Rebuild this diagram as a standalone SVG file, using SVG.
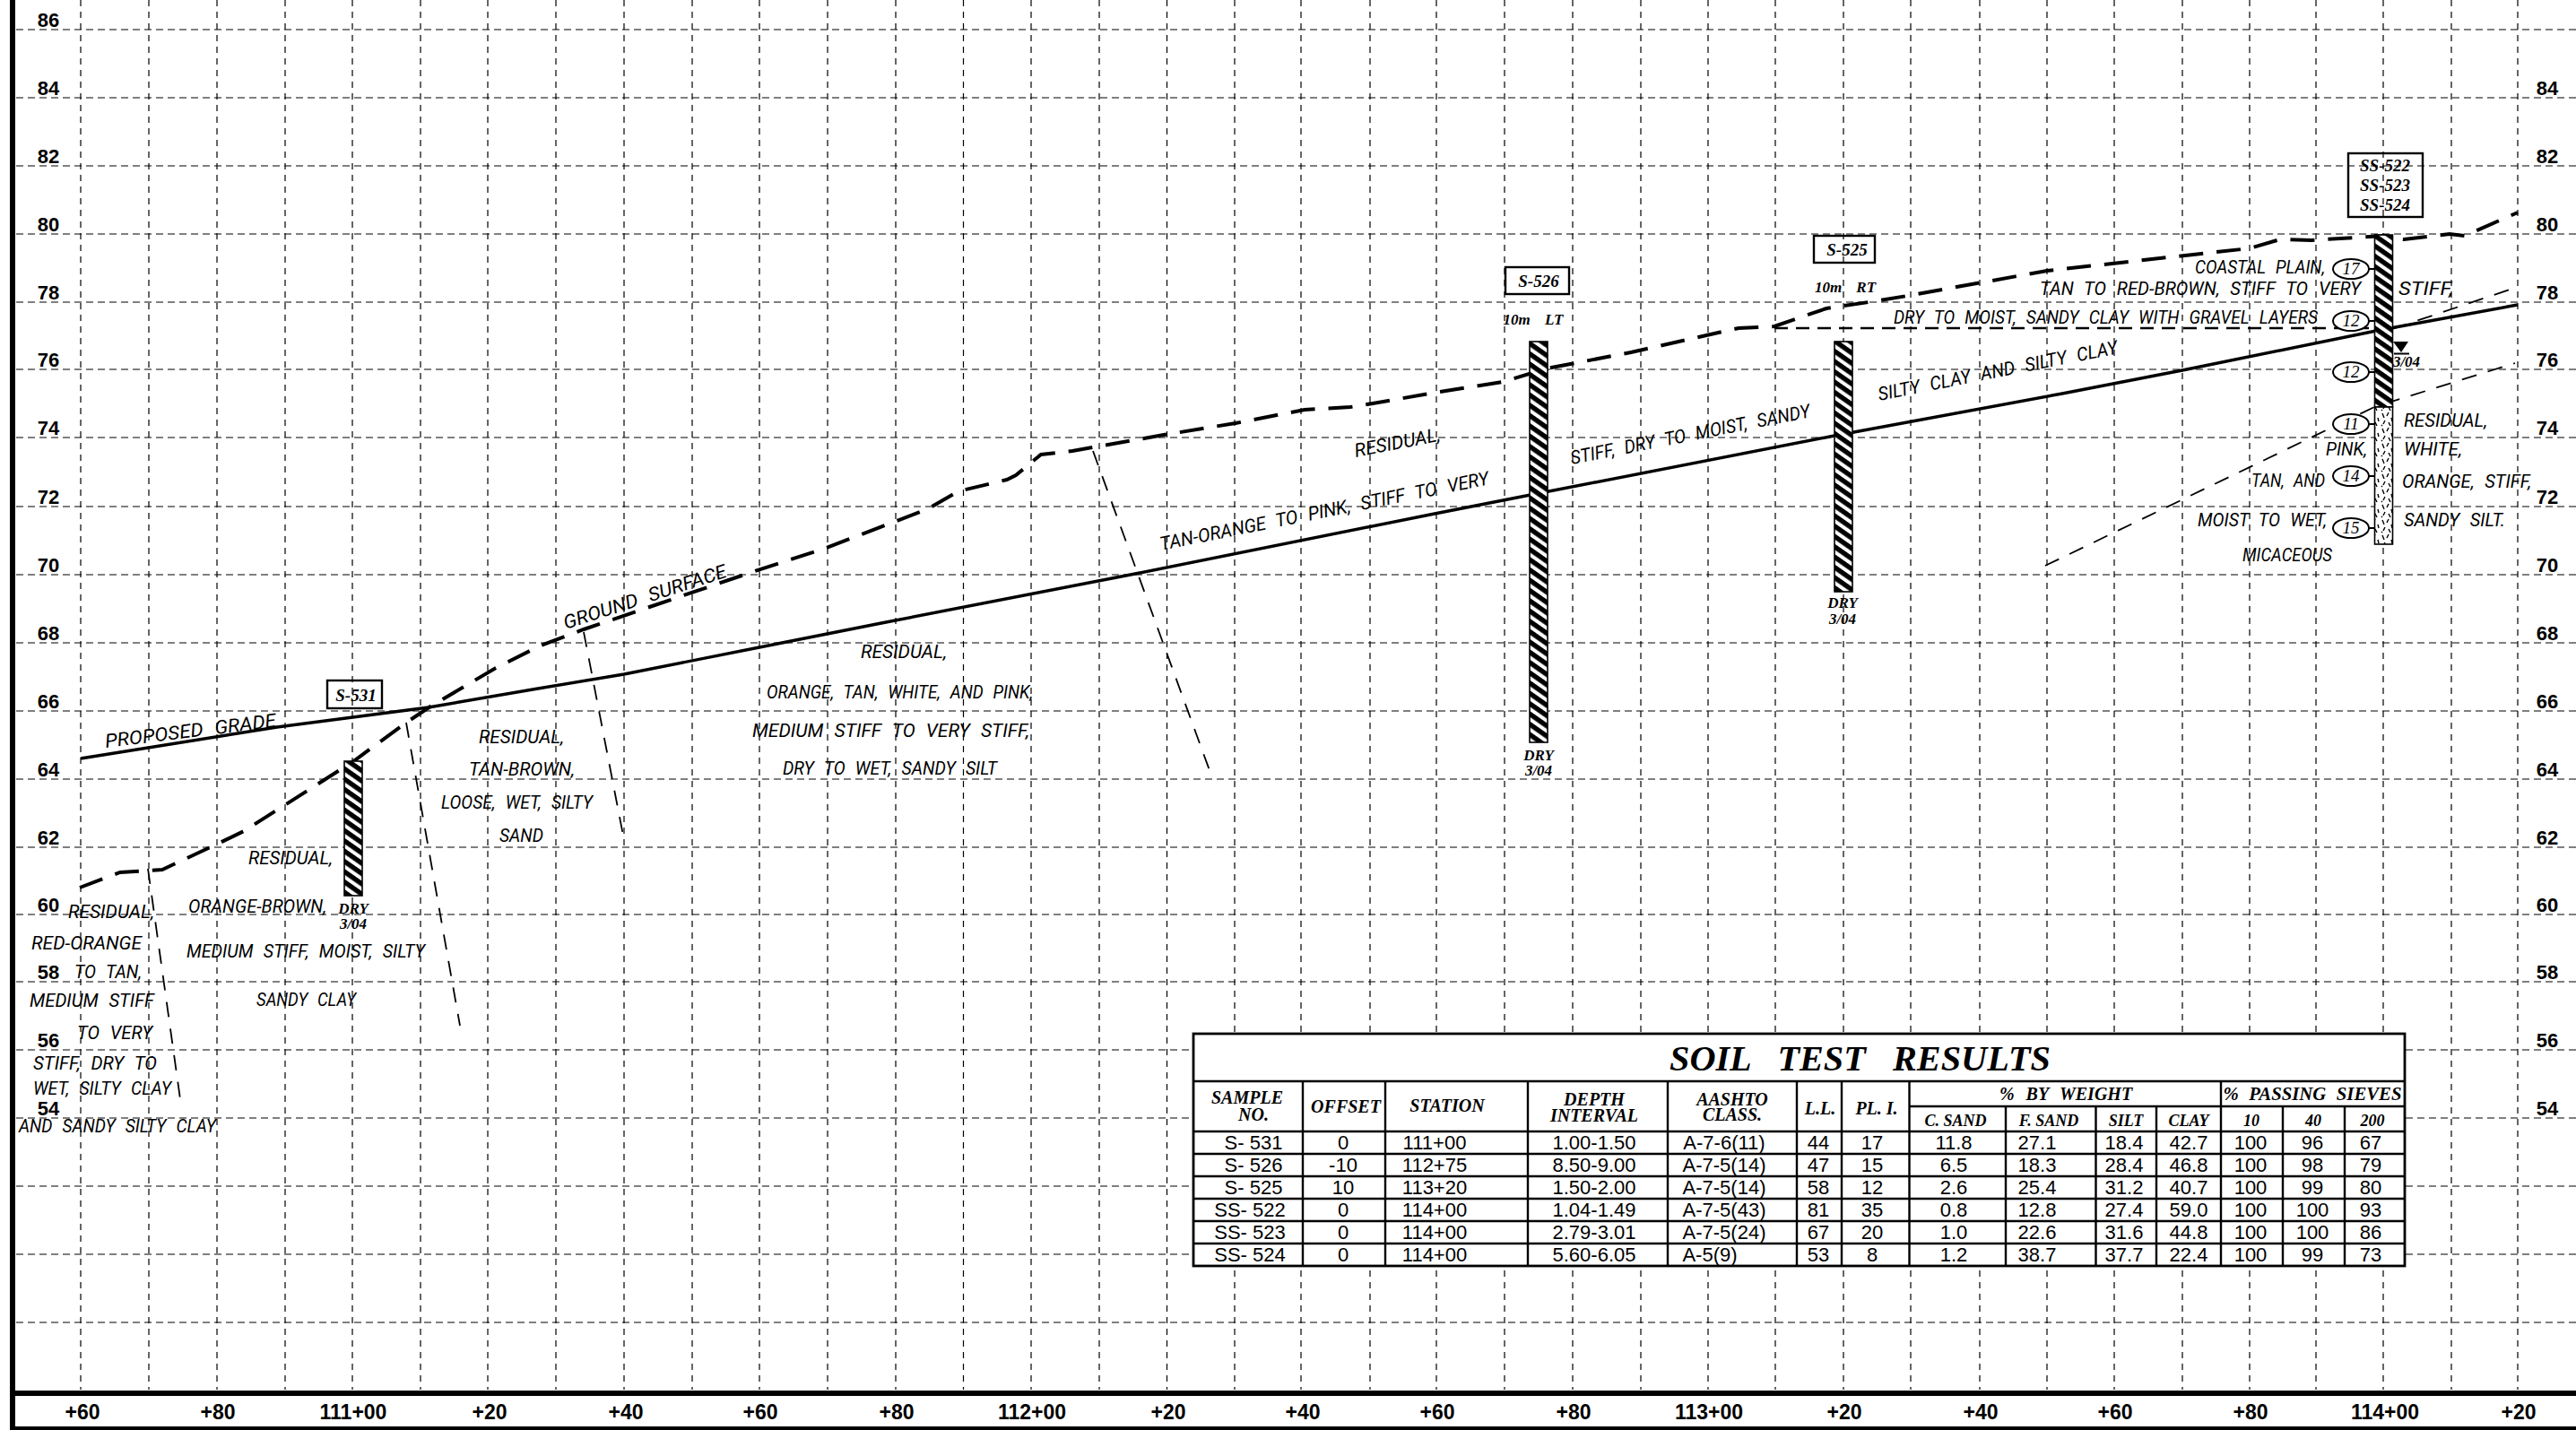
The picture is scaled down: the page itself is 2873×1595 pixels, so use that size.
<svg xmlns="http://www.w3.org/2000/svg" width="2873" height="1595" viewBox="0 0 2873 1595">
<style>
text{fill:#000}
.grid{fill:none;stroke:#000;stroke-width:1.2;stroke-dasharray:8 5}
.gridv{fill:none;stroke:#000;stroke-width:1.2;stroke-dasharray:7 6}
.ground{fill:none;stroke:#000;stroke-width:4;stroke-dasharray:27 15}
.grade{fill:none;stroke:#000;stroke-width:3.4}
.thin{fill:none;stroke:#000;stroke-width:1.8;stroke-dasharray:17 13}
.mid{fill:none;stroke:#000;stroke-width:2.6;stroke-dasharray:15 9}
.el{font:bold 22px "Liberation Sans",sans-serif;text-anchor:middle}
.st{font:bold 23px "Liberation Sans",sans-serif;text-anchor:middle}
.l{font:italic 400 21px Roboto,"Liberation Sans",sans-serif;word-spacing:7px}
.tag{font:italic bold 17px "Liberation Serif",serif;text-anchor:middle}
.bx{font:italic bold 19px "Liberation Serif",serif;text-anchor:middle}
.off{word-spacing:12px}
.n{font:italic 19px "Liberation Serif",serif;text-anchor:middle}
.box{fill:none;stroke:#000;stroke-width:2.4}
.hole{stroke:#000;stroke-width:1.6}
.oval{fill:#fff;stroke:#000;stroke-width:2}
.tick{stroke:#000;stroke-width:2}
.tl{fill:none;stroke:#000;stroke-width:2.4}
.th{font:italic bold 20px "Liberation Serif",serif;text-anchor:middle}
.th2{font:italic bold 18px "Liberation Serif",serif;text-anchor:middle}
.td{font:22px "Liberation Sans",sans-serif;text-anchor:middle}
</style>
<defs>
<pattern id="hatch" patternUnits="userSpaceOnUse" width="20" height="9.4" patternTransform="rotate(35)"><rect width="20" height="9.4" fill="#fff"/><rect width="20" height="5.4" fill="#000"/></pattern>
<pattern id="speck" patternUnits="userSpaceOnUse" width="15" height="17"><rect width="15" height="17" fill="#fff"/><path d="M2 2l2 5M9 1l-2 4M12 7l1 4M5 10l-2 4M9 12l2 4M1 15l1 1" stroke="#000" stroke-width="1.4" fill="none"/></pattern>
</defs>
<rect width="2873" height="1595" fill="#fff"/>

<g id="grid">
<path class="grid" d="M18 33H2873M18 109H2873M18 185H2873M18 261H2873M18 337H2873M18 412H2873M18 488H2873M18 565H2873M18 641H2873M18 717H2873M18 793H2873M18 869H2873M18 945H2873M18 1020H2873M18 1095H2873M18 1171H2873M18 1247H2873M18 1323H2873M18 1399H2873M18 1475H2873"/>
<path class="gridv" d="M90 0V1550M166 0V1550M242 0V1550M318 0V1550M393 0V1550M469 0V1550M544 0V1550M620 0V1550M696 0V1550M772 0V1550M847 0V1550M923 0V1550M999 0V1550M1074.5 0V1550M1150 0V1550M1226 0V1550M1301.5 0V1550M1377 0V1550M1451 0V1550M1528 0V1550M1602 0V1550M1678 0V1550M1754 0V1550M1830 0V1550M1905 0V1550M1980 0V1550M2056 0V1550M2131 0V1550M2208 0V1550M2283 0V1550M2358 0V1550M2434 0V1550M2509 0V1550M2583 0V1550M2658 0V1550M2734 0V1550M2808 0V1550"/>
</g>

<g id="frame" fill="#000">
<rect x="11" y="0" width="6" height="1595"/>
<rect x="11" y="1551" width="2862" height="6"/>
<rect x="11" y="1591" width="2862" height="4"/>
</g>

<g id="elevations-left">
<text class="el" x="54" y="30">86</text><text class="el" x="54" y="106">84</text><text class="el" x="54" y="182">82</text><text class="el" x="54" y="258">80</text><text class="el" x="54" y="334">78</text><text class="el" x="54" y="409">76</text><text class="el" x="54" y="485">74</text><text class="el" x="54" y="562">72</text><text class="el" x="54" y="638">70</text><text class="el" x="54" y="714">68</text><text class="el" x="54" y="790">66</text><text class="el" x="54" y="866">64</text><text class="el" x="54" y="942">62</text><text class="el" x="54" y="1017">60</text><text class="el" x="54" y="1092">58</text><text class="el" x="54" y="1168">56</text><text class="el" x="54" y="1244">54</text>
</g>
<g id="elevations-right">
<text class="el" x="2841" y="106">84</text><text class="el" x="2841" y="182">82</text><text class="el" x="2841" y="258">80</text><text class="el" x="2841" y="334">78</text><text class="el" x="2841" y="409">76</text><text class="el" x="2841" y="485">74</text><text class="el" x="2841" y="562">72</text><text class="el" x="2841" y="638">70</text><text class="el" x="2841" y="714">68</text><text class="el" x="2841" y="790">66</text><text class="el" x="2841" y="866">64</text><text class="el" x="2841" y="942">62</text><text class="el" x="2841" y="1017">60</text><text class="el" x="2841" y="1092">58</text><text class="el" x="2841" y="1168">56</text><text class="el" x="2841" y="1244">54</text>
</g>
<g id="stations">
<text class="st" x="92" y="1583">+60</text><text class="st" x="243" y="1583">+80</text><text class="st" x="394" y="1583">111+00</text><text class="st" x="546" y="1583">+20</text><text class="st" x="698" y="1583">+40</text><text class="st" x="848" y="1583">+60</text><text class="st" x="1000" y="1583">+80</text><text class="st" x="1151" y="1583">112+00</text><text class="st" x="1303" y="1583">+20</text><text class="st" x="1453" y="1583">+40</text><text class="st" x="1603" y="1583">+60</text><text class="st" x="1755" y="1583">+80</text><text class="st" x="1906" y="1583">113+00</text><text class="st" x="2057" y="1583">+20</text><text class="st" x="2209" y="1583">+40</text><text class="st" x="2359" y="1583">+60</text><text class="st" x="2510" y="1583">+80</text><text class="st" x="2660" y="1583">114+00</text><text class="st" x="2809" y="1583">+20</text>
</g>

<g id="connectors">
<path class="grade" d="M90 846L309 811L478 789L600 768L696 752L847 722L983 695L1266 640L1600 573L1707 552L2046 486L2300 439L2434 413L2655 368L2808 340"/>
<path class="ground" d="M89 990L134 973L181 970L243 941L272 927L393 850L453 806L480 788L553 745L603 720L651 702L839 638L919 612L995 583L1034 568L1069 548L1123 535L1133 530L1161 507L1196 503L1298 485L1378 472L1455 457L1506 454L1531 450L1600 438L1676 426L1725 411L1819 393L1921 370L1939 366L1979 364L2037 344L2091 336L2127 330L2283 302L2509 277L2543 267L2578 268L2659 263L2681 267L2732 261L2749 263L2808 237"/>
<path class="thin" d="M165 969L201 1226"/>
<path class="thin" d="M453 806L513 1144"/>
<path class="thin" d="M651 705L696 937"/>
<path class="thin" d="M1219 503L1350 862"/>
<path class="mid" d="M1979 366H2648"/>
<path class="thin" d="M2668 367L2808 320"/>
<path class="thin" d="M2281 631L2648 454L2805 405"/>
</g>

<g id="borehole-s531">
<rect class="box" x="365" y="759" width="61" height="31"/>
<text class="bx" x="397" y="782">S-531</text>
<rect class="hole" x="384" y="849" width="20" height="150" fill="url(#hatch)"/>
<text class="tag" x="394" y="1019">DRY</text><text class="tag" x="394" y="1036">3/04</text>
</g>
<g id="borehole-s526">
<rect class="box" x="1679" y="298" width="71" height="30"/>
<text class="bx" x="1716" y="320">S-526</text>
<text class="tag off" x="1710" y="362">10m LT</text>
<rect class="hole" x="1706" y="381" width="20" height="447" fill="url(#hatch)"/>
<text class="tag" x="1716" y="848">DRY</text><text class="tag" x="1716" y="865">3/04</text>
</g>
<g id="borehole-s525">
<rect class="box" x="2023" y="263" width="68" height="30"/>
<text class="bx" x="2060" y="285">S-525</text>
<text class="tag off" x="2058" y="326">10m RT</text>
<rect class="hole" x="2046" y="381" width="20" height="279" fill="url(#hatch)"/>
<text class="tag" x="2055" y="678">DRY</text><text class="tag" x="2055" y="696">3/04</text>
</g>
<g id="borehole-ss522">
<rect class="box" x="2619" y="171" width="83" height="71"/>
<text class="bx" x="2660" y="191">SS-522</text><text class="bx" x="2660" y="213">SS-523</text><text class="bx" x="2660" y="235">SS-524</text>
<rect class="hole" x="2648.5" y="262" width="20" height="192" fill="url(#hatch)"/>
<rect class="hole" x="2648.5" y="454" width="20" height="153" fill="url(#speck)"/>
<path d="M2669 381H2686L2678 393Z" fill="#000"/>
<path d="M2670 394.500H2687" stroke="#000" stroke-width="2"/>
<text class="tag" x="2684" y="409">3/04</text>
<path class="tick" d="M2642 300H2649M2642 358H2649M2642 415H2649M2642 473H2649M2642 531H2649M2642 589H2649"/>
<ellipse class="oval" cx="2622" cy="300" rx="20" ry="11"/><text class="n" x="2622" y="306">17</text>
<ellipse class="oval" cx="2622" cy="358" rx="20" ry="11"/><text class="n" x="2622" y="364">12</text>
<ellipse class="oval" cx="2622" cy="415" rx="20" ry="11"/><text class="n" x="2622" y="421">12</text>
<ellipse class="oval" cx="2622" cy="473" rx="20" ry="11"/><text class="n" x="2622" y="479">11</text>
<ellipse class="oval" cx="2622" cy="531" rx="20" ry="11"/><text class="n" x="2622" y="537">14</text>
<ellipse class="oval" cx="2622" cy="589" rx="20" ry="11"/><text class="n" x="2622" y="595">15</text>
</g>

<g id="soil-labels">
<text class="l" x="76" y="1024" textLength="96" lengthAdjust="spacingAndGlyphs">RESIDUAL,</text>
<text class="l" x="35" y="1059" textLength="123" lengthAdjust="spacingAndGlyphs">RED-ORANGE</text>
<text class="l" x="83" y="1091" textLength="75" lengthAdjust="spacingAndGlyphs">TO TAN,</text>
<text class="l" x="33" y="1123" textLength="139" lengthAdjust="spacingAndGlyphs">MEDIUM STIFF</text>
<text class="l" x="86" y="1159" textLength="84" lengthAdjust="spacingAndGlyphs">TO VERY</text>
<text class="l" x="37" y="1193" textLength="138" lengthAdjust="spacingAndGlyphs">STIFF, DRY TO</text>
<text class="l" x="37" y="1221" textLength="154" lengthAdjust="spacingAndGlyphs">WET, SILTY CLAY</text>
<text class="l" x="21" y="1263" textLength="220" lengthAdjust="spacingAndGlyphs">AND SANDY SILTY CLAY</text>
<text class="l" x="277" y="964" textLength="94" lengthAdjust="spacingAndGlyphs">RESIDUAL,</text>
<text class="l" x="210" y="1018" textLength="154" lengthAdjust="spacingAndGlyphs">ORANGE-BROWN,</text>
<text class="l" x="208" y="1068" textLength="266" lengthAdjust="spacingAndGlyphs">MEDIUM STIFF, MOIST, SILTY</text>
<text class="l" x="286" y="1122" textLength="111" lengthAdjust="spacingAndGlyphs">SANDY CLAY</text>
<text class="l" x="534" y="829" textLength="95" lengthAdjust="spacingAndGlyphs">RESIDUAL,</text>
<text class="l" x="523" y="865" textLength="118" lengthAdjust="spacingAndGlyphs">TAN-BROWN,</text>
<text class="l" x="492" y="902" textLength="169" lengthAdjust="spacingAndGlyphs">LOOSE, WET, SILTY</text>
<text class="l" x="557" y="939" textLength="49" lengthAdjust="spacingAndGlyphs">SAND</text>
<text class="l" x="960" y="734" textLength="96" lengthAdjust="spacingAndGlyphs">RESIDUAL,</text>
<text class="l" x="855" y="779" textLength="297" lengthAdjust="spacingAndGlyphs">ORANGE, TAN, WHITE, AND PINK,</text>
<text class="l" x="839" y="822" textLength="309" lengthAdjust="spacingAndGlyphs">MEDIUM STIFF TO VERY STIFF,</text>
<text class="l" x="873" y="864" textLength="239" lengthAdjust="spacingAndGlyphs">DRY TO WET, SANDY SILT</text>
<text class="l" transform="translate(118 834) rotate(-7)" textLength="192" lengthAdjust="spacingAndGlyphs">PROPOSED GRADE</text>
<text class="l" transform="translate(631 702) rotate(-18)" textLength="190" lengthAdjust="spacingAndGlyphs">GROUND SURFACE</text>
<text class="l" transform="translate(1295 614) rotate(-11.4)" textLength="374" lengthAdjust="spacingAndGlyphs">TAN-ORANGE TO PINK, STIFF TO VERY</text>
<text class="l" transform="translate(1753 518) rotate(-11.2)" textLength="272" lengthAdjust="spacingAndGlyphs">STIFF, DRY TO MOIST, SANDY</text>
<text class="l" transform="translate(2096 447) rotate(-11.2)" textLength="272" lengthAdjust="spacingAndGlyphs">SILTY CLAY AND SILTY CLAY</text>
<text class="l" transform="translate(1512 510) rotate(-11)" textLength="97" lengthAdjust="spacingAndGlyphs">RESIDUAL,</text>
<text class="l" x="2448" y="305" textLength="145" lengthAdjust="spacingAndGlyphs">COASTAL PLAIN,</text>
<text class="l" x="2275" y="329" textLength="358" lengthAdjust="spacingAndGlyphs">TAN TO RED-BROWN, STIFF TO VERY</text>
<text class="l" x="2675" y="329" textLength="61" lengthAdjust="spacingAndGlyphs">STIFF,</text>
<text class="l" x="2112" y="361" textLength="473" lengthAdjust="spacingAndGlyphs">DRY TO MOIST, SANDY CLAY WITH GRAVEL LAYERS</text>
<text class="l" x="2681" y="476" textLength="93" lengthAdjust="spacingAndGlyphs">RESIDUAL,</text>
<text class="l" x="2681" y="508" textLength="65" lengthAdjust="spacingAndGlyphs">WHITE,</text>
<text class="l" x="2594" y="508" textLength="46" lengthAdjust="spacingAndGlyphs">PINK,</text>
<text class="l" x="2511" y="543" textLength="82" lengthAdjust="spacingAndGlyphs">TAN, AND</text>
<text class="l" x="2679" y="544" textLength="144" lengthAdjust="spacingAndGlyphs">ORANGE, STIFF,</text>
<text class="l" x="2451" y="587" textLength="144" lengthAdjust="spacingAndGlyphs">MOIST TO WET,</text>
<text class="l" x="2681" y="587" textLength="113" lengthAdjust="spacingAndGlyphs">SANDY SILT.</text>
<text class="l" x="2501" y="626" textLength="100" lengthAdjust="spacingAndGlyphs">MICACEOUS</text>
</g>

<g id="soil-test-table">
<rect x="1331" y="1153" width="1351" height="259" fill="#fff" stroke="#000" stroke-width="2.8"/>
<path class="tl" d="M1331 1206H2682M1331 1262H2682M2129.500 1234H2682M1331 1287H2682M1331 1312H2682M1331 1337H2682M1331 1362H2682M1331 1387H2682"/>
<path class="tl" d="M1453 1206V1412M1545 1206V1412M1704 1206V1412M1860 1206V1412M2004 1206V1412M2054 1206V1412M2129.500 1206V1412M2237 1234V1412M2337.500 1234V1412M2405 1234V1412M2477 1206V1412M2546 1234V1412M2615 1234V1412"/>
<text x="1862" y="1194" textLength="425" lengthAdjust="spacingAndGlyphs" style="font:italic bold 40px 'Liberation Serif',serif;word-spacing:20px">SOIL TEST RESULTS</text>
<text class="th" x="1391" y="1231">SAMPLE</text><text class="th" x="1398" y="1250">NO.</text>
<text class="th" x="1501" y="1241">OFFSET</text>
<text class="th" x="1614" y="1240">STATION</text>
<text class="th" x="1778" y="1233">DEPTH</text><text class="th" x="1778" y="1251">INTERVAL</text>
<text class="th" x="1932" y="1233">AASHTO</text><text class="th" x="1932" y="1250">CLASS.</text>
<text class="th" x="2030" y="1243">L.L.</text><text class="th" x="2093" y="1243">PL. I.</text>
<text class="th" x="2304" y="1227" style="word-spacing:8px">% BY WEIGHT</text>
<text class="th" x="2579" y="1227" style="word-spacing:6px" textLength="199" lengthAdjust="spacingAndGlyphs">% PASSING SIEVES</text>
<text class="th2" x="2181" y="1256">C. SAND</text><text class="th2" x="2285" y="1256">F. SAND</text><text class="th2" x="2371" y="1256">SILT</text><text class="th2" x="2441" y="1256">CLAY</text><text class="th2" x="2511" y="1256">10</text><text class="th2" x="2580" y="1256">40</text><text class="th2" x="2646" y="1256">200</text>
<text class="td" y="1282"><tspan x="1398">S- 531</tspan><tspan x="1498">0</tspan><tspan x="1600">111+00</tspan><tspan x="1778">1.00-1.50</tspan><tspan x="1923">A-7-6(11)</tspan><tspan x="2028">44</tspan><tspan x="2088">17</tspan><tspan x="2179">11.8</tspan><tspan x="2272">27.1</tspan><tspan x="2369">18.4</tspan><tspan x="2441">42.7</tspan><tspan x="2510">100</tspan><tspan x="2579">96</tspan><tspan x="2644">67</tspan></text>
<text class="td" y="1307"><tspan x="1398">S- 526</tspan><tspan x="1498">-10</tspan><tspan x="1600">112+75</tspan><tspan x="1778">8.50-9.00</tspan><tspan x="1923">A-7-5(14)</tspan><tspan x="2028">47</tspan><tspan x="2088">15</tspan><tspan x="2179">6.5</tspan><tspan x="2272">18.3</tspan><tspan x="2369">28.4</tspan><tspan x="2441">46.8</tspan><tspan x="2510">100</tspan><tspan x="2579">98</tspan><tspan x="2644">79</tspan></text>
<text class="td" y="1332"><tspan x="1398">S- 525</tspan><tspan x="1498">10</tspan><tspan x="1600">113+20</tspan><tspan x="1778">1.50-2.00</tspan><tspan x="1923">A-7-5(14)</tspan><tspan x="2028">58</tspan><tspan x="2088">12</tspan><tspan x="2179">2.6</tspan><tspan x="2272">25.4</tspan><tspan x="2369">31.2</tspan><tspan x="2441">40.7</tspan><tspan x="2510">100</tspan><tspan x="2579">99</tspan><tspan x="2644">80</tspan></text>
<text class="td" y="1357"><tspan x="1394">SS- 522</tspan><tspan x="1498">0</tspan><tspan x="1600">114+00</tspan><tspan x="1778">1.04-1.49</tspan><tspan x="1923">A-7-5(43)</tspan><tspan x="2028">81</tspan><tspan x="2088">35</tspan><tspan x="2179">0.8</tspan><tspan x="2272">12.8</tspan><tspan x="2369">27.4</tspan><tspan x="2441">59.0</tspan><tspan x="2510">100</tspan><tspan x="2579">100</tspan><tspan x="2644">93</tspan></text>
<text class="td" y="1382"><tspan x="1394">SS- 523</tspan><tspan x="1498">0</tspan><tspan x="1600">114+00</tspan><tspan x="1778">2.79-3.01</tspan><tspan x="1923">A-7-5(24)</tspan><tspan x="2028">67</tspan><tspan x="2088">20</tspan><tspan x="2179">1.0</tspan><tspan x="2272">22.6</tspan><tspan x="2369">31.6</tspan><tspan x="2441">44.8</tspan><tspan x="2510">100</tspan><tspan x="2579">100</tspan><tspan x="2644">86</tspan></text>
<text class="td" y="1407"><tspan x="1394">SS- 524</tspan><tspan x="1498">0</tspan><tspan x="1600">114+00</tspan><tspan x="1778">5.60-6.05</tspan><tspan x="1907">A-5(9)</tspan><tspan x="2028">53</tspan><tspan x="2088">8</tspan><tspan x="2179">1.2</tspan><tspan x="2272">38.7</tspan><tspan x="2369">37.7</tspan><tspan x="2441">22.4</tspan><tspan x="2510">100</tspan><tspan x="2579">99</tspan><tspan x="2644">73</tspan></text>
</g>
</svg>
